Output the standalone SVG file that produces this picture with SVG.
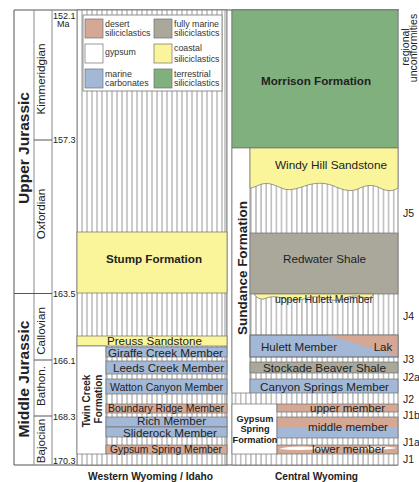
<svg xmlns="http://www.w3.org/2000/svg" width="419" height="482" viewBox="0 0 419 482">
<style>
.t{font-family:"Liberation Sans",Arial,sans-serif;fill:#222}
.m{text-anchor:middle}
.b{font-weight:bold}
.u{font-size:11.6px}
.s{font-size:10.5px}
.lg{font-size:8.8px;fill:#333}
.ag{font-size:9px}
.j{font-size:10.5px}
.box{stroke:#6f6f6f;stroke-width:0.7}
.tan{fill:#d4a894}
.gry{fill:#aaa89b}
.yel{fill:#faf59b}
.grn{fill:#80b07e}
.blu{fill:#a2b8d6}
.wht{fill:#fff}
.fr{stroke:#555;stroke-width:1;fill:none}
.fr2{stroke:#8a8a8a;stroke-width:1;fill:none}
</style>
<defs>
<pattern id="hw" patternUnits="userSpaceOnUse" x="79.5" y="0" width="5" height="10"><rect width="5" height="10" fill="#fff"/><line x1="2.5" y1="0" x2="2.5" y2="10" stroke="#8a8a8a" stroke-width="0.9"/></pattern>
<pattern id="hc" patternUnits="userSpaceOnUse" x="253.45" y="0" width="5.1" height="10"><rect width="5.1" height="10" fill="#fff"/><line x1="2.55" y1="0" x2="2.55" y2="10" stroke="#8a8a8a" stroke-width="0.9"/></pattern>
</defs>
<rect width="419" height="482" fill="#fff"/>

<g id="timescale">
<line class="fr" x1="14" y1="10" x2="399" y2="10"/>
<line class="fr" x1="14" y1="465" x2="398" y2="465"/>
<line class="fr" x1="14" y1="10" x2="14" y2="465"/>
<line class="fr2" x1="34" y1="10" x2="34" y2="465"/>
<line class="fr2" x1="52" y1="10" x2="52" y2="465"/>
<line class="fr" x1="14" y1="293.5" x2="52" y2="293.5"/>
<line class="fr" x1="34" y1="140" x2="52" y2="140"/>
<line class="fr" x1="34" y1="360" x2="52" y2="360"/>
<line class="fr" x1="34" y1="416" x2="52" y2="416"/>
<text class="t b m" font-size="15" transform="translate(28.5,148) rotate(-90)" textLength="112" lengthAdjust="spacingAndGlyphs">Upper Jurassic</text>
<text class="t b m" font-size="15" transform="translate(29,379) rotate(-90)" textLength="117" lengthAdjust="spacingAndGlyphs">Middle Jurassic</text>
<text class="t m" font-size="11.6" transform="translate(45,79) rotate(-90)">Kimmeridgian</text>
<text class="t m" font-size="11.6" transform="translate(45,214) rotate(-90)">Oxfordian</text>
<text class="t m" font-size="11.6" transform="translate(45,331) rotate(-90)">Callovian</text>
<text class="t m" font-size="11.6" transform="translate(45,386) rotate(-90)">Bathon.</text>
<text class="t m" font-size="11.6" transform="translate(45,441) rotate(-90)">Bajocian</text>
<text class="t ag" x="53" y="18.5">152.1</text>
<text class="t ag" x="57" y="27">Ma</text>
<text class="t ag" x="53" y="143">157.3</text>
<text class="t ag" x="53" y="297">163.5</text>
<text class="t ag" x="53" y="364">166.1</text>
<text class="t ag" x="53" y="419.5">168.3</text>
<text class="t ag" x="53" y="464">170.3</text>
</g>

<g id="western-column">
<rect x="77" y="10" width="150" height="455" fill="url(#hw)" stroke="#666" stroke-width="0.8"/>
<line x1="225" y1="10" x2="225" y2="465" stroke="#8a8a8a" stroke-width="0.9"/>
</g>

<g id="legend">
<rect x="83" y="15" width="139" height="76" fill="#fff" stroke="#777" stroke-width="0.8"/>
<rect class="box tan" x="85" y="19" width="18" height="19"/>
<rect class="box wht" x="85" y="44" width="18" height="19"/>
<rect class="box blu" x="85" y="69" width="18" height="19"/>
<rect class="box gry" x="154" y="19" width="18" height="19"/>
<rect class="box yel" x="154" y="44" width="18" height="19"/>
<rect class="box grn" x="154" y="69" width="18" height="19"/>
<text class="t lg" x="105" y="26.5">desert</text>
<text class="t lg" x="105" y="36">siliciclastics</text>
<text class="t lg" x="105" y="55">gypsum</text>
<text class="t lg" x="105" y="76.5">marine</text>
<text class="t lg" x="105" y="86">carbonates</text>
<text class="t lg" x="174" y="26.5">fully marine</text>
<text class="t lg" x="174" y="36">siliciclastics</text>
<text class="t lg" x="174" y="51">coastal</text>
<text class="t lg" x="174" y="61.5">siliciclastics</text>
<text class="t lg" x="174" y="76.5">terrestrial</text>
<text class="t lg" x="174" y="86">siliciclastics</text>
</g>

<g id="stump-formation">
<rect class="box yel" x="77" y="232" width="150" height="61"/>
<text class="t b m u" x="154" y="263">Stump Formation</text>
</g>
<g id="preuss-sandstone">
<rect class="box yel" x="77" y="336" width="150" height="10"/>
<text class="t m s" x="154.5" y="344.8" textLength="95" lengthAdjust="spacingAndGlyphs">Preuss Sandstone</text>
</g>
<g id="twin-creek-formation">
<rect class="box wht" x="77" y="346" width="29" height="108"/>
<text class="t b m" font-size="10" transform="translate(90,401) rotate(-90)">Twin Creek</text>
<text class="t b m" font-size="10" transform="translate(102,399) rotate(-90)">Formation</text>
</g>
<g id="giraffe-creek-member">
<rect class="box blu" x="106" y="347" width="121" height="10"/>
<text class="t m s" x="165.5" y="356.5" textLength="115" lengthAdjust="spacingAndGlyphs">Giraffe Creek Member</text>
</g>
<g id="leeds-creek-member">
<rect class="box blu" x="106" y="361" width="121" height="13"/>
<text class="t m u" x="168.5" y="371.5" textLength="111" lengthAdjust="spacingAndGlyphs">Leeds Creek Member</text>
</g>
<g id="watton-canyon-member">
<rect class="box blu" x="106" y="379" width="121" height="15"/>
<text class="t m u" x="166.5" y="390.5" textLength="113" lengthAdjust="spacingAndGlyphs">Watton Canyon Member</text>
</g>
<g id="boundary-ridge-member">
<rect class="box tan" x="106" y="404" width="121" height="9"/>
<text class="t m u" x="166" y="411.5" textLength="116" lengthAdjust="spacingAndGlyphs">Boundary Ridge Member</text>
</g>
<g id="rich-member">
<rect class="box blu" x="106" y="417" width="121" height="10"/>
<text class="t m s" x="171.5" y="425" textLength="69" lengthAdjust="spacingAndGlyphs">Rich Member</text>
</g>
<g id="sliderock-member">
<rect class="box blu" x="106" y="427" width="121" height="10"/>
<text class="t m s" x="170" y="437" textLength="94" lengthAdjust="spacingAndGlyphs">Sliderock Member</text>
</g>
<g id="gypsum-spring-member">
<rect class="box tan" x="106" y="445" width="121" height="9"/>
<text class="t m u" x="166" y="452.5" textLength="112" lengthAdjust="spacingAndGlyphs">Gypsum Spring Member</text>
</g>

<g id="central-column">
<rect x="232" y="10" width="166" height="455" fill="url(#hc)" stroke="#666" stroke-width="0.8"/>
</g>
<g id="morrison-formation">
<rect class="box grn" x="232" y="10" width="166" height="138"/>
<text class="t b m u" x="316" y="85" textLength="110" lengthAdjust="spacingAndGlyphs">Morrison Formation</text>
</g>
<g id="sundance-formation">
<rect class="box wht" x="232" y="148" width="18" height="245"/>
<text class="t b m" font-size="13" transform="translate(247,268) rotate(-90)" textLength="134" lengthAdjust="spacingAndGlyphs">Sundance Formation</text>
</g>
<g id="windy-hill-sandstone">
<path class="box yel" d="M250,148 H398 V188 C392,192 386,191 380,188 C372,184 366,185 358,189 C350,192 344,190 336,187 C328,183 318,182 308,185 C298,188 292,191 284,189 C276,186 270,182 262,184 C256,186 253,188 250,188 Z"/>
<text class="t m u" x="331" y="169" textLength="112" lengthAdjust="spacingAndGlyphs">Windy Hill Sandstone</text>
</g>
<g id="redwater-shale">
<rect class="box gry" x="250" y="233" width="148" height="61"/>
<text class="t m u" x="324.5" y="263" textLength="83" lengthAdjust="spacingAndGlyphs">Redwater Shale</text>
</g>
<g id="upper-hulett-member">
<path class="box yel" d="M254,294 L374,294 Q370,300 362,297 Q352,294 344,299 Q334,302 324,298 Q314,295 304,299 Q292,302 282,298 Q272,295 264,299 Q258,300 254,294 Z"/>
<text class="t m" font-size="10.4" x="324" y="303" textLength="98" lengthAdjust="spacingAndGlyphs">upper Hulett Member</text>
</g>
<g id="hulett-member">
<rect class="box blu" x="250" y="335" width="148" height="22"/>
<path class="tan" d="M326,335 L398,335 L398,356 Z"/>
<rect x="250" y="335" width="148" height="22" fill="none" stroke="#6f6f6f" stroke-width="0.7"/>
<text class="t m u" x="299" y="351" textLength="76" lengthAdjust="spacingAndGlyphs">Hulett Member</text>
<text class="t m u" x="383" y="351">Lak</text>
</g>
<g id="stockade-beaver-shale">
<rect class="box gry" x="250" y="362" width="148" height="11"/>
<text class="t m u" x="324.5" y="372" textLength="123" lengthAdjust="spacingAndGlyphs">Stockade Beaver Shale</text>
</g>
<g id="canyon-springs-member">
<rect class="box blu" x="250" y="379" width="148" height="14"/>
<text class="t m u" x="324.5" y="391" textLength="129" lengthAdjust="spacingAndGlyphs">Canyon Springs Member</text>
</g>
<g id="gypsum-spring-formation">
<rect class="box wht" x="232" y="404" width="45" height="50"/>
<text class="t b m" font-size="9.2" x="255" y="421.5">Gypsum</text>
<text class="t b m" font-size="9.2" x="255" y="432">Spring</text>
<text class="t b m" font-size="9.2" x="255" y="442.5">Formation</text>
</g>
<g id="upper-member">
<rect class="box tan" x="277" y="404" width="121" height="8"/>
<text class="t m u" x="347.5" y="411.5" textLength="75" lengthAdjust="spacingAndGlyphs">upper member</text>
</g>
<g id="middle-member">
<rect class="tan" x="277" y="417" width="121" height="10"/>
<rect class="blu" x="277" y="427" width="121" height="11"/>
<rect x="277" y="417" width="121" height="21" fill="none" stroke="#6f6f6f" stroke-width="0.7"/>
<text class="t m u" x="348" y="431" textLength="80" lengthAdjust="spacingAndGlyphs">middle member</text>
</g>
<g id="lower-member">
<rect class="box tan" x="277" y="445" width="121" height="9"/>
<path fill="#fff" d="M279,449 Q295,444.5 330,448.5 Q300,451 279,449 Z"/>
<path fill="#fff" d="M352,448.5 Q380,445 397,448 Q380,451 352,448.5 Z"/>
<text class="t m u" x="348.5" y="453" textLength="73" lengthAdjust="spacingAndGlyphs">lower member</text>
</g>

<g id="unconformities">
<text class="t m" font-size="10.5" transform="translate(408.5,47) rotate(-90)">regional</text>
<text class="t m" font-size="10.5" transform="translate(417,48) rotate(-90)">unconformities</text>
<text class="t j" x="403" y="217">J5</text>
<text class="t j" x="403" y="320">J4</text>
<text class="t j" x="403" y="363">J3</text>
<text class="t j" x="403" y="381">J2a</text>
<text class="t j" x="403" y="403">J2</text>
<text class="t j" x="403" y="419">J1b</text>
<text class="t j" x="403" y="446">J1a</text>
<text class="t j" x="403" y="463">J1</text>
</g>

<g id="column-titles">
<text class="t b m" font-size="10" x="150.5" y="480" textLength="125" lengthAdjust="spacingAndGlyphs">Western Wyoming / Idaho</text>
<text class="t b m" font-size="10" x="316.5" y="480" textLength="83" lengthAdjust="spacingAndGlyphs">Central Wyoming</text>
</g>
</svg>
